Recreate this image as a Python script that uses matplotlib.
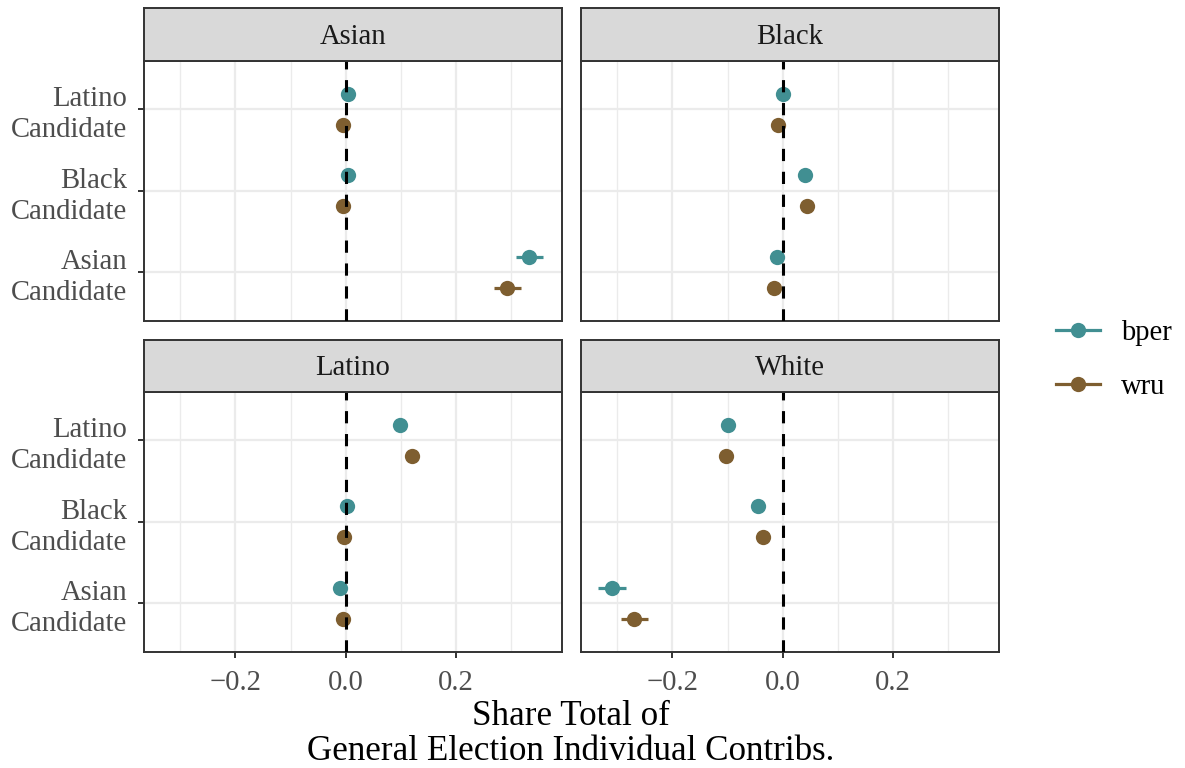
import matplotlib
matplotlib.use("Agg")
import matplotlib.pyplot as plt
from matplotlib.lines import Line2D
import numpy as np

plt.rcParams['font.family'] = ['Liberation Serif', 'DejaVu Serif']

# ---- data ----
panels = ["Asian", "Black", "Latino", "White"]
candidates = ["Asian\nCandidate", "Black\nCandidate", "Latino\nCandidate"]  # bottom -> top
methods = ["bper", "wru"]

# estimates per panel, ordered as candidates (Asian, Black, Latino)
bper_est = {
    "Asian":  [0.333, 0.005, 0.005],
    "Black":  [-0.011, 0.040, 0.000],
    "Latino": [-0.011, 0.002, 0.098],
    "White":  [-0.309, -0.044, -0.100],
}
bper_lo = {
    "Asian":  [0.309, 0.001, 0.001],
    "Black":  [-0.015, 0.036, -0.004],
    "Latino": [-0.015, -0.002, 0.094],
    "White":  [-0.335, -0.048, -0.104],
}
bper_hi = {
    "Asian":  [0.358, 0.009, 0.009],
    "Black":  [-0.007, 0.044, 0.004],
    "Latino": [-0.007, 0.006, 0.102],
    "White":  [-0.284, -0.040, -0.096],
}
wru_est = {
    "Asian":  [0.293, -0.004, -0.005],
    "Black":  [-0.016, 0.045, -0.009],
    "Latino": [-0.005, -0.002, 0.120],
    "White":  [-0.269, -0.036, -0.102],
}
wru_lo = {
    "Asian":  [0.269, -0.008, -0.009],
    "Black":  [-0.020, 0.041, -0.013],
    "Latino": [-0.009, -0.006, 0.116],
    "White":  [-0.293, -0.041, -0.107],
}
wru_hi = {
    "Asian":  [0.318, 0.000, -0.001],
    "Black":  [-0.012, 0.049, -0.005],
    "Latino": [-0.001, 0.002, 0.124],
    "White":  [-0.245, -0.031, -0.097],
}

xticks_major = [-0.2, 0.0, 0.2]
xtick_labels = ["\u22120.2", "0.0", "0.2"]
xticks_minor = [-0.3, -0.1, 0.1, 0.3]
colors = {"bper": "#418F92", "wru": "#7E5E30"}
offsets = {"bper": 0.19, "wru": -0.19}

W, H = 1185, 768
fig = plt.figure(figsize=(W / 100, H / 100), dpi=100)

edge = "#333333"
grid_c = "#EBEBEB"
txt_c = "#4D4D4D"
small = 20.6

cols = [(143.5, 562.0), (580.5, 999.0)]
rows = [(8.0, 60.5, 321.0), (340.0, 391.5, 652.0)]

def px_rect(l, r, t, b):
    return [l / W, 1 - b / H, (r - l) / W, (b - t) / H]

for i, name in enumerate(panels):
    ri, ci = divmod(i, 2)
    l, r = cols[ci]
    st, sb, pb = rows[ri]
    ax = fig.add_axes(px_rect(l, r, sb, pb))
    sax = fig.add_axes(px_rect(l, r, st, sb))

    sax.set_facecolor("#D9D9D9")
    sax.set_xticks([]); sax.set_yticks([])
    for sp in sax.spines.values():
        sp.set_color(edge); sp.set_linewidth(1.4)
    sax.text(0.5, 0.45, name, ha="center", va="center", fontsize=small,
             color="#1A1A1A", transform=sax.transAxes)

    ypos = np.arange(1, len(candidates) + 1)
    for m, est, lo, hi in [("bper", bper_est, bper_lo, bper_hi),
                           ("wru", wru_est, wru_lo, wru_hi)]:
        y = ypos + offsets[m]
        e = np.array(est[name]); a = np.array(lo[name]); b = np.array(hi[name])
        ax.hlines(y, a, b, color=colors[m], linewidth=2.3, zorder=3)
        ax.plot(e, y, "o", color=colors[m], markersize=11, markeredgewidth=0, zorder=4)

    ax.axvline(0, color="black", linestyle=(0, (4, 3.5)), linewidth=2.2, zorder=5)

    ax.set_xlim(-0.367, 0.393)
    ax.set_ylim(0.4, 3.6)
    ax.set_xticks(xticks_major)
    ax.set_xticks(xticks_minor, minor=True)
    ax.set_yticks(ypos)
    ax.grid(True, which="major", color=grid_c, linewidth=1.6, zorder=0)
    ax.grid(True, which="minor", axis="x", color=grid_c, linewidth=1.0, zorder=0)
    ax.set_axisbelow(True)
    for sp in ax.spines.values():
        sp.set_color(edge); sp.set_linewidth(1.4)
    ax.tick_params(which="minor", length=0)
    ax.tick_params(which="major", length=4, width=1.4, color=edge,
                   labelsize=small, labelcolor=txt_c)
    ax.tick_params(axis="x", pad=9)
    ax.tick_params(axis="y", pad=7.5)
    if ri == 1:
        ax.set_xticklabels(xtick_labels)
    else:
        ax.tick_params(axis="x", length=0, labelbottom=False)
    if ci == 0:
        ax.set_yticklabels(candidates, ha="right", linespacing=1.25)
    else:
        ax.tick_params(axis="y", length=0, labelleft=False)

fig.text(571 / W, 1 - 700 / H, "Share Total of\nGeneral Election Individual Contribs.",
         ha="center", va="top", fontsize=25.2, color="black", linespacing=1.1)

handles = [Line2D([0], [0], color=colors[m], linewidth=2.3, marker="o",
                  markersize=11, markeredgewidth=0) for m in methods]
fig.legend(handles, methods, loc="center left",
           bbox_to_anchor=(1056 / W, 1 - 360 / H), frameon=False,
           fontsize=small, handlelength=1.55, handletextpad=0.73, labelspacing=0.95,
           borderaxespad=0, borderpad=0)

fig.savefig("out.png", dpi=100)
